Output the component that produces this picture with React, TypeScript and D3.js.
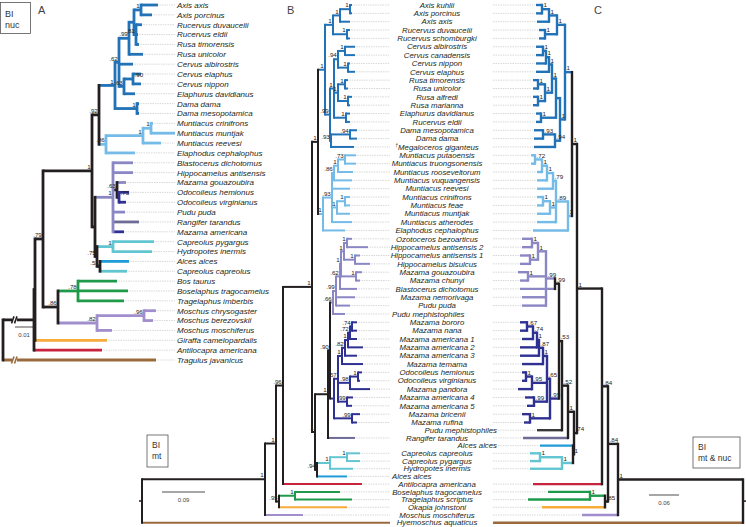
import React from "react";
import * as d3 from "d3";

type TN = { name?: string; d: number; s?: string; col?: string; children?: TN[] };
const L = (name: string, d: number, col?: string): TN => ({ name, d, col });
const N = (d: number, s: string, children: TN[], col?: string): TN => ({ d, s, children, col });

const BLACK = "#231f20";
const BLUE = "#2272b8";
const LBLUE = "#74bbe8";
const LAV = "#8b87c5";
const NAVY = "#2e3192";
const GREYP = "#6e6b96";
const TEAL = "#62c6d2";
const ABLUE = "#1f9bd7";
const RED = "#c8243e";
const GREEN = "#1e9a4a";
const ORANGE = "#f6ab3b";
const MPURP = "#a18fcd";
const BROWN = "#9a6a3d";
const DARK = "#3a3a3a";

// ---------- Panel A (BI nuc) ----------
const tipsA = [
  "Axis axis", "Axis porcinus", "Rucervus duvaucelii", "Rucervus eldii", "Rusa timorensis", "Rusa unicolor",
  "Cervus albirostris", "Cervus elaphus", "Cervus nippon", "Elaphurus davidianus", "Dama dama", "Dama mesopotamica",
  "Muntiacus crinifrons", "Muntiacus muntjak", "Muntiacus reevesi", "Elaphodus cephalophus", "Blastocerus dichotomus",
  "Hippocamelus antisensis", "Mazama gouazoubira", "Odocoileus hemionus", "Odocoileus virginianus", "Pudu puda",
  "Rangifer tarandus", "Mazama americana", "Capreolus pygargus", "Hydropotes inermis", "Alces alces",
  "Capreolus capreolus", "Bos taurus", "Boselaphus tragocamelus", "Tragelaphus imberbis", "Moschus chrysogaster",
  "Moschus berezovskii", "Moschus moschiferus", "Giraffa camelopardalis", "Antilocapra americana", "Tragulus javanicus",
];

const cerviniA = N(112, "1", [
  N(116, ".62", [
    N(126, ".99", [
      N(131, "", [
        N(138, "1", [L("Axis axis", 155), L("Axis porcinus", 149)]),
        N(133, ".81", [L("Rucervus duvaucelii", 139), L("Rucervus eldii", 135), L("Rusa timorensis", 136)]),
      ]),
      L("Rusa unicolor", 140),
    ]),
    L("Cervus albirostris", 130),
    N(121, ".63", [N(130, ">.90", [L("Cervus elaphus", 138), L("Cervus nippon", 138)]), L("Elaphurus davidianus", 132)]),
  ]),
  N(134, "1", [L("Dama dama", 136), L("Dama mesopotamica", 136)]),
], BLUE);

const muntiaciniA = N(103, ".86", [
  N(140, "1", [N(148, "1", [L("Muntiacus crinifrons", 150), L("Muntiacus muntjak", 172)]), L("Muntiacus reevesi", 158)]),
  L("Elaphodus cephalophus", 132),
], LBLUE);

const capreolinaeA = N(92, "", [
  N(110, "1", [
    L("Blastocerus dichotomus", 130),
    L("Hippocamelus antisensis", 130),
    N(114, ".63", [
      L("Mazama gouazoubira", 123, LAV),
      N(116, ">.73", [L("Odocoileus hemionus", 126), L("Odocoileus virginianus", 123)], NAVY),
    ], BLACK),
    L("Pudu puda", 122),
    L("Rangifer tarandus", 136, GREYP),
    L("Mazama americana", 121, NAVY),
  ], LAV),
  N(94, ".75", [
    N(110, "1", [L("Capreolus pygargus", 151), L("Hydropotes inermis", 149)], TEAL),
    N(97, ".51", [L("Alces alces", 126, ABLUE), L("Capreolus capreolus", 124, TEAL)]),
  ]),
]);

const treeA = N(0, "", [
  N(31, "", [
    N(32, "", [
      N(40, ".79", [
        N(89, "1", [N(96, ".92", [cerviniA, muntiaciniA]), capreolinaeA]),
        N(55, ".86", [
          N(75, ".78", [L("Bos taurus", 114), L("Boselaphus tragocamelus", 125), L("Tragelaphus imberbis", 121)], GREEN),
          N(94, ".82", [N(141, ".96", [L("Moschus chrysogaster", 153), L("Moschus berezovskii", 150)]), L("Moschus moschiferus", 109)], MPURP),
        ]),
      ]),
      L("Giraffa camelopardalis", 104, ORANGE),
    ]),
    L("Antilocapra americana", 99, RED),
  ]),
  L("Tragulus javanicus", 153, BROWN),
]);

// ---------- Shared label column for B and C ----------
const bcNames = [
  "Axis kuhlii", "Axis porcinus", "Axis axis", "Rucervus duvaucelii", "Rucervus schomburgki", "Cervus albirostris",
  "Cervus canadensis", "Cervus nippon", "Cervus elaphus", "Rusa timorensis", "Rusa unicolor", "Rusa alfredi",
  "Rusa marianna", "Elaphurus davidianus", "Rucervus eldii", "Dama mesopotamica", "Dama dama", "†Megaloceros giganteus",
  "Muntiacus putaoensis", "Muntiacus truongsonensis", "Muntiacus rooseveltorum", "Muntiacus vuquangensis",
  "Muntiacus reevesi", "Muntiacus crinifrons", "Muntiacus feae", "Muntiacus muntjak", "Muntiacus atherodes",
  "Elaphodus cephalophus", "Ozotoceros bezoarticus", "Hippocamelus antisensis 2", "Hippocamelus antisensis 1",
  "Hippocamelus bisulcus", "Mazama gouazoubira", "Mazama chunyi", "Blastocerus dichotomus", "Mazama nemorivaga",
  "Pudu puda", "Pudu mephistophiles", "Mazama bororo", "Mazama nana", "Mazama americana 1", "Mazama americana 2",
  "Mazama americana 3", "Mazama temama", "Odocoileus hemionus", "Odocoileus virginianus", "Mazama pandora",
  "Mazama americana 4", "Mazama americana 5", "Mazama bricenii", "Mazama rufina", "Pudu mephistophiles",
  "Rangifer tarandus", "Alces alces", "Capreolus capreolus", "Capreolus pygargus", "Hydropotes inermis",
  "Alces alces", "Antilocapra americana", "Boselaphus tragocamelus", "Tragelaphus scriptus", "Okapia johnstoni",
  "Moschus moschiferus", "Hyemoschus aquaticus",
];
const bcRows = [
  0, 1, 2, 3, 4, 5, 6, 7, 8, 9, 10, 11, 12, 13, 14, 15, 16, 17, 18, 19, 20, 21, 22, 23, 24, 25, 26, 27, 28, 29, 30,
  31, 32, 33, 34, 35, 36, 37, 38, 39, 40, 41, 42, 43, 44, 45, 46, 47, 48, 49, 50, 50.92, 51.85, 52.77, 53.69, 54.62,
  55.54, 56.46, 57.38, 58.31, 59.23, 60.15, 61.08, 62,
];
const bcSides = bcNames.map((_, i) => (i === 37 || i === 57 ? "B" : i === 51 || i === 53 ? "C" : "both"));

// ---------- Panel B (BI mt) ----------
const cerviniB = N(183, "1", [
  N(191, "1", [
    N(198, "1", [N(208, "1", [L("Axis kuhlii", 210), L("Axis porcinus", 210)]), L("Axis axis", 208)]),
    N(205, "1", [L("Rucervus duvaucelii", 208), L("Rucervus schomburgki", 208)]),
  ]),
  N(188, ".99", [
    N(192, "1", [
      N(196, ".94", [
        N(203, "1", [L("Cervus albirostris", 213), L("Cervus canadensis", 213)]),
        N(206, "1", [L("Cervus nippon", 208), L("Cervus elaphus", 213)]),
      ]),
      N(196, "1", [
        N(203, "1", [L("Rusa timorensis", 206), L("Rusa unicolor", 206)]),
        N(206, "1", [L("Rusa alfredi", 210), L("Rusa marianna", 208)]),
      ]),
      N(204, "1", [L("Elaphurus davidianus", 208), L("Rucervus eldii", 208)]),
    ]),
    N(189, ".93", [N(208, ".94", [L("Dama mesopotamica", 215), L("Dama dama", 215)]), L("†Megaloceros giganteus", 212)]),
  ]),
], BLUE);

const muntiaciniB = N(181, "1", [
  N(190, ".93", [
    N(192, ".86", [
      N(196, "1", [
        N(203, ".73", [L("Muntiacus putaoensis", 214), L("Muntiacus truongsonensis", 214)]),
        L("Muntiacus rooseveltorum", 211),
      ]),
      L("Muntiacus vuquangensis", 210),
    ]),
    L("Muntiacus reevesi", 208),
    N(195, "1", [N(203, "1", [L("Muntiacus crinifrons", 208), L("Muntiacus feae", 208)]), L("Muntiacus muntjak", 208)]),
    L("Muntiacus atherodes", 210),
  ]),
  L("Elaphodus cephalophus", 203),
], LBLUE);

const blastoB = N(191, ".66", [
  N(194, ".99", [
    N(198, ".62", [
      N(199, "1", [
        N(202, "1", [
          N(205, "1", [L("Ozotoceros bezoarticus", 210), L("Hippocamelus antisensis 2", 226)]),
          N(213, "1", [L("Hippocamelus antisensis 1", 218), L("Hippocamelus bisulcus", 228)]),
        ]),
        N(214, "1", [L("Mazama gouazoubira", 220), L("Mazama chunyi", 218)]),
      ]),
      L("Blastocerus dichotomus", 215),
    ]),
    L("Mazama nemorivaga", 213),
    L("Pudu puda", 208),
  ]),
  L("Pudu mephistophiles", 203),
], LAV);

const odocoileinaB = N(192, "", [
  N(196, ".57", [
    N(200, "1", [
      N(203, ".82", [
        N(206, "1", [
          N(208, ".72", [N(210, ".74", [L("Mazama bororo", 215), L("Mazama nana", 215)]), L("Mazama americana 1", 215)]),
          L("Mazama americana 2", 221),
        ]),
        L("Mazama americana 3", 215),
      ]),
      L("Mazama temama", 221),
    ]),
    N(208, ".98", [N(216, "1", [L("Odocoileus hemionus", 220), L("Odocoileus virginianus", 218)]), L("Mazama pandora", 228)]),
    N(205, ".99", [L("Mazama americana 4", 211), L("Mazama americana 5", 210)]),
  ]),
  N(210, ".99", [L("Mazama bricenii", 218), L("Mazama rufina", 215)]),
], NAVY);

const capreolinaeB = N(173, "1", [
  N(186, "1", [N(188, ".90", [blastoB, odocoileinaB]), L("Rangifer tarandus", 213, GREYP)]),
  N(175, ".94", [
    N(188, "1", [N(205, "1", [L("Capreolus capreolus", 218), L("Capreolus pygargus", 218)]), L("Hydropotes inermis", 211)], TEAL),
    L("Alces alces", 205, ABLUE),
  ]),
]);

const treeB = N(0, "", [
  N(123, "1", [
    N(134, "1", [
      N(141, ".96", [
        N(170, "1", [N(176, "1", [cerviniB, muntiaciniB]), capreolinaeB]),
        L("Antilocapra americana", 220, RED),
      ]),
      N(137, ".95", [
        N(153, "1", [L("Boselaphus tragocamelus", 198), L("Tragelaphus scriptus", 210)], GREEN),
        L("Okapia johnstoni", 205, ORANGE),
      ]),
    ]),
    L("Moschus moschiferus", 161, MPURP),
  ]),
  L("Hyemoschus aquaticus", 248, BROWN),
]);

// ---------- Panel C (BI mt & nuc) ----------
const cerviniC = N(178, "1", [
  N(186, "1", [
    N(194, "1", [N(201, "1", [L("Axis kuhlii", 207), L("Axis porcinus", 207)]), L("Axis axis", 206)]),
    N(198, "1", [L("Rucervus duvaucelii", 204), L("Rucervus schomburgki", 204)]),
  ]),
  N(183, "1", [
    N(187, "", [
      N(191, "1", [
        N(194, "1", [
          N(197, "1", [N(200, "1", [L("Cervus albirostris", 207), L("Cervus canadensis", 207)]), L("Cervus nippon", 207)]),
          L("Cervus elaphus", 207),
        ]),
        N(198, "1", [
          N(205, "1", [L("Rusa timorensis", 210), L("Rusa unicolor", 210)]),
          N(205, "1", [L("Rusa alfredi", 210), L("Rusa marianna", 210)]),
        ]),
      ]),
      N(202, "1", [L("Elaphurus davidianus", 207), L("Rucervus eldii", 207)]),
    ]),
    N(188, ".94", [N(200, ".93", [L("Dama mesopotamica", 209), L("Dama dama", 209)]), L("†Megaloceros giganteus", 209)]),
  ]),
], BLUE);

const muntiaciniC = N(175, "1", [
  N(187, ".89", [
    N(190, ".79", [
      N(196, "1", [
        N(201, "1", [
          N(208, ".72", [L("Muntiacus putaoensis", 212), L("Muntiacus truongsonensis", 212)]),
          L("Muntiacus rooseveltorum", 206),
        ]),
        L("Muntiacus vuquangensis", 206),
      ]),
      L("Muntiacus reevesi", 206),
    ]),
    N(193, "1", [N(200, "1", [L("Muntiacus crinifrons", 206), L("Muntiacus feae", 206)]), L("Muntiacus muntjak", 206)]),
    L("Muntiacus atherodes", 206),
  ]),
  L("Elaphodus cephalophus", 210),
], LBLUE);

const odocoileinaC = N(193, ".99", [
  N(196, ".65", [
    N(200, "1", [
      N(204, ".87", [
        N(206, "1", [
          N(210, ".74", [N(216, ".67", [L("Mazama bororo", 223), L("Mazama nana", 223)]), L("Mazama americana 1", 221)]),
          L("Mazama americana 2", 223),
        ]),
        L("Mazama americana 3", 223),
      ]),
      L("Mazama temama", 221),
    ]),
    N(211, ".95", [N(217, "1", [L("Odocoileus hemionus", 221), L("Odocoileus virginianus", 221)]), L("Mazama pandora", 225)]),
    N(209, ".99", [L("Mazama americana 4", 218), L("Mazama americana 5", 216)]),
  ]),
  N(213, "1", [L("Mazama bricenii", 221), L("Mazama rufina", 219)]),
], NAVY);

const capreolinaeC = N(169, ".74", [
  N(175, "1", [
    N(181, ".52", [
      N(184, ".53", [
        N(188, ".99", [
          N(197, ".99", [
            N(205, "1", [
              N(211, "1", [L("Ozotoceros bezoarticus", 221), L("Hippocamelus antisensis 2", 221)]),
              N(213, "1", [L("Hippocamelus antisensis 1", 223), L("Hippocamelus bisulcus", 223)]),
            ]),
            N(215, "1", [L("Mazama gouazoubira", 225), L("Mazama chunyi", 223)]),
            L("Mazama nemorivaga", 221),
            L("Pudu puda", 221),
          ], LAV),
          L("Blastocerus dichotomus", 223, LAV),
        ]),
        odocoileinaC,
      ]),
      L("Pudu mephistophiles", 206, DARK),
    ]),
    L("Rangifer tarandus", 220, GREYP),
  ]),
  N(170, "1", [
    L("Alces alces", 203, ABLUE),
    N(181, "1", [N(203, "1", [L("Capreolus capreolus", 213), L("Capreolus pygargus", 213)]), L("Hydropotes inermis", 213)], TEAL),
  ]),
]);

const treeC = N(0, "", [
  N(125, "1", [
    N(135, ".84", [
      N(141, ".84", [
        N(166, "1", [N(171, "1", [cerviniC, muntiaciniC]), capreolinaeC]),
        L("Antilocapra americana", 210, RED),
      ]),
      N(138, ".85", [
        N(153, "1", [L("Boselaphus tragocamelus", 195), L("Tragelaphus scriptus", 215)], GREEN),
        L("Okapia johnstoni", 201, ORANGE),
      ]),
    ]),
    L("Moschus moschiferus", 161, MPURP),
  ]),
  L("Hyemoschus aquaticus", 250, BROWN),
]);

const FONT = "'Liberation Sans', Arial, Helvetica, sans-serif";

function layoutTree(root: TN, xs: (v: number) => number, yOf: (n: string) => number) {
  const h: any = d3.hierarchy<TN>(root);
  h.each((n: any) => {
    n.col = n.data.col ?? (n.parent ? n.parent.col : BLACK);
    n.px = xs(n.data.d);
  });
  h.eachAfter((n: any) => {
    if (n.children) n.py = (n.children[0].py + n.children[n.children.length - 1].py) / 2;
    else n.py = yOf(n.data.name);
  });
  return h;
}

function TreeG({ h, lw, dot, supSide, k }: any) {
  const nodes = h.descendants();
  return (
    <g>
      {nodes
        .filter((n: any) => !n.children)
        .map((n: any, i: number) => {
          const [a, b] = dot(n.px);
          return b - a > 1 ? (
            <line key={k + "d" + i} x1={a} x2={b} y1={n.py} y2={n.py} stroke="#858585" strokeWidth={0.55} strokeDasharray="0.6 1.1" />
          ) : null;
        })}
      {nodes
        .filter((n: any) => n.parent)
        .map((n: any, i: number) => (
          <line key={k + "h" + i} x1={n.parent.px} x2={n.px} y1={n.py} y2={n.py} stroke={n.col} strokeWidth={lw} />
        ))}
      {nodes
        .filter((n: any) => n.children)
        .map((n: any, i: number) => (
          <line
            key={k + "v" + i}
            x1={n.px}
            x2={n.px}
            y1={n.children[0].py}
            y2={n.children[n.children.length - 1].py}
            stroke={n.col}
            strokeWidth={lw}
            strokeLinecap="square"
          />
        ))}
      {nodes
        .filter((n: any) => n.children && n.data.s)
        .map((n: any, i: number) => {
          const flip = n.data.s.startsWith(">");
          const txt = flip ? n.data.s.slice(1) : n.data.s;
          const left = (supSide === "left") !== flip;
          return (
            <text
              key={k + "s" + i}
              x={left ? n.px - 1.2 : n.px + 1.5}
              y={n.py - 1.8}
              textAnchor={left ? "end" : "start"}
              fontSize={6.2}
              fill="#222"
              fontFamily={FONT}
            >
              {txt}
            </text>
          );
        })}
    </g>
  );
}

export default function App() {
  const yA = d3.scaleLinear().domain([0, 36]).range([5, 360]);
  const yBC = d3.scaleLinear().domain([0, 62]).range([5, 522.7]);
  const xA = d3.scaleLinear().domain([0, 153]).range([3, 156]);
  const xB = d3.scaleLinear().domain([0, 248]).range([142, 390]);
  const xC = d3.scaleLinear().domain([0, 250]).range([743, 493]);

  const rowOf = (side: string) => (name: string) => {
    const i = bcNames.findIndex((nm, j) => nm === name && bcSides[j] !== side);
    return yBC(bcRows[i]);
  };

  const hA = layoutTree(treeA, xA, (n) => yA(tipsA.indexOf(n)));
  const hB = layoutTree(treeB, xB, rowOf("C"));
  const hC = layoutTree(treeC, xC, rowOf("B"));

  const breakStems = hA.children.map((c: any) => ({ y: c.py, col: c.col }));

  return (
    <svg width={746} height={527} style={{ position: "absolute", left: 0, top: 0, background: "#fff" }} fontFamily={FONT}>
      <rect x={0} y={0} width={746} height={527} fill="#fff" />
      {/* Panel A */}
      <TreeG h={hA} lw={2.8} dot={(px: number) => [px + 0.8, 175]} supSide="left" k="a" />
      {breakStems.map((b: any, i: number) => (
        <g key={"br" + i}>
          <rect x={xA(9)} y={b.y - 3} width={5} height={6} fill="#fff" />
          <line x1={xA(8.5)} y1={b.y + 3.5} x2={xA(11)} y2={b.y - 3.5} stroke={b.col} strokeWidth={1.6} />
          <line x1={xA(11.5)} y1={b.y + 3.5} x2={xA(14)} y2={b.y - 3.5} stroke={b.col} strokeWidth={1.6} />
        </g>
      ))}
      {tipsA.map((nm, i) => (
        <text key={"ta" + i} x={177} y={yA(i) + 2.9} fontSize={8} fontStyle="italic" fill={BLACK}>
          {nm}
        </text>
      ))}
      <rect x={0.5} y={2.5} width={30} height={31} fill="none" stroke="#555" strokeWidth={0.8} />
      <text x={5} y={17} fontSize={9} fill="#333">BI</text>
      <text x={5} y={28} fontSize={9} fill="#333">nuc</text>
      <text x={38} y={14} fontSize={11} fill="#444">A</text>
      <line x1={xA(12)} x2={xA(30)} y1={327} y2={327} stroke={BLACK} strokeWidth={0.8} />
      <text x={xA(21)} y={337} fontSize={6} fill="#444" textAnchor="middle">0.01</text>

      {/* Panel B */}
      <TreeG h={hB} lw={2} dot={(px: number) => [px + 0.8, 390]} supSide="left" k="b" />
      <line x1={139} x2={xB(0)} y1={hB.py} y2={hB.py} stroke={BLACK} strokeWidth={1.5} />
      <text x={287} y={14} fontSize={11} fill="#444">B</text>
      <rect x={147} y={435} width={21} height={32} fill="#fff" stroke="#555" strokeWidth={0.8} />
      <text x={152} y={448} fontSize={8.5} fill="#333">BI</text>
      <text x={152} y={459} fontSize={8.5} fill="#333">mt</text>
      <line x1={xB(20)} x2={xB(63)} y1={492} y2={492} stroke={BLACK} strokeWidth={0.8} />
      <text x={xB(41.5)} y={502} fontSize={6} fill="#444" textAnchor="middle">0.09</text>

      {/* Panel C */}
      <TreeG h={hC} lw={2.4} dot={(px: number) => [493, px - 0.8]} supSide="right" k="c" />
      <line x1={xC(0)} x2={746} y1={hC.py} y2={hC.py} stroke={BLACK} strokeWidth={1.5} />
      <text x={594} y={14} fontSize={11} fill="#444">C</text>
      <rect x={693} y={437} width={47} height={31} fill="#fff" stroke="#555" strokeWidth={0.8} />
      <text x={698} y={450} fontSize={8.5} fill="#333">BI</text>
      <text x={698} y={461} fontSize={8.5} fill="#333">mt &amp; nuc</text>
      <line x1={xC(64)} x2={xC(94)} y1={495} y2={495} stroke={BLACK} strokeWidth={0.8} />
      <text x={xC(79)} y={505} fontSize={6} fill="#444" textAnchor="middle">0.06</text>

      {/* Shared labels B/C */}
      {bcNames.map((nm, i) => {
        const side = bcSides[i];
        const anchor = side === "B" ? "start" : side === "C" ? "end" : "middle";
        const x = side === "B" ? 392 : side === "C" ? 497 : 437;
        const y = yBC(bcRows[i]) + 2.7;
        const dag = nm.startsWith("†");
        return (
          <text key={"bc" + i} x={x} y={y} textAnchor={anchor} fontSize={7.8} fontStyle="italic" fill={BLACK}>
            {dag ? (
              <>
                <tspan fontSize={5} dy={-2.5}>†</tspan>
                <tspan dy={2.5}>{nm.slice(1)}</tspan>
              </>
            ) : (
              nm
            )}
          </text>
        );
      })}
    </svg>
  );
}
